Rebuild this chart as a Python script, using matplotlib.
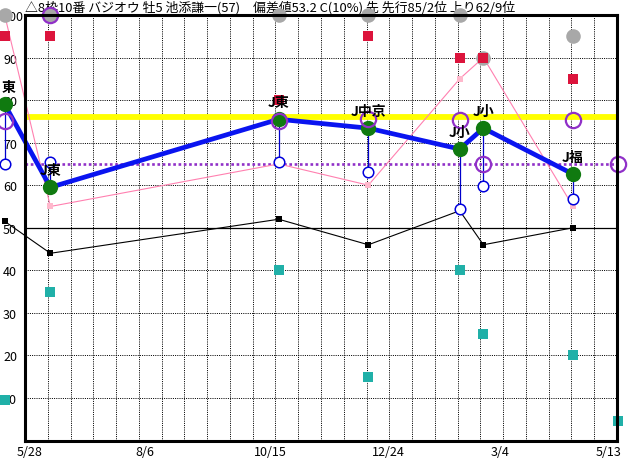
import matplotlib
matplotlib.use("Agg")
import matplotlib.pyplot as plt
import matplotlib.transforms as mtransforms
import numpy as np

plt.rcParams['font.family'] = ['Noto Sans CJK JP', 'DejaVu Sans']

# タイトル
title = "△8枠10番 バジオウ 牡5 池添謙一(57)\u3000偏差値53.2 C(10%) 先 先行85/2位 上り62/9位"

# X軸 (5/28 からの日数)
tick_days = [0, 70, 140, 210, 280, 350]
tick_labels = ["5/28", "8/6", "10/15", "12/24", "3/4", "5/13"]

# 各レース (最初のレースは左端で「J」が見えない)
race_days = [-12, 15, 150, 203, 257, 271, 324]
race_labels = ["東", "J東", "J東", "J中京", "J小", "J小", "J福"]
green_vals = [79, 59.5, 75.5, 73.4, 68.5, 73.4, 62.6]
blue_vals = [65, 65.4, 65.4, 63, 54.4, 59.8, 56.7]
purple_vals = [75, 100, 75, 75.5, 75.3, 65, 75.3]
gray_vals = [100, 100, 100, 100, 100, 90, 95]
red_vals = [95, 95, 80, 95, 90, 90, 85]
pink_vals = [100, 55, 65, 60, 85, 90, 55]
black_vals = [51.5, 44, 52, 46, 54, 46, 50]
teal_vals = [9.6, 35, 40, 15, 40, 25, 20]

# 今回
now_day = 350.5
now_purple = 65
now_teal = 4.7

# 基準線
yellow_level = 76
purple_level = 65

W, H = 632, 460
fig = plt.figure(figsize=(W / 100, H / 100), dpi=100)
ax = fig.add_axes([25 / W, (H - 441.5) / H, 592 / W, 425.5 / H])
ax.set_xlim(0, 350)
ax.set_ylim(0, 100)

# グリッド
for gx in np.linspace(0, 350, 27)[1:-1]:
    ax.axvline(gx, color='black', lw=0.72, dashes=(1, 1.2), zorder=0.5)
for gy in range(10, 100, 10):
    if gy == 50:
        ax.axhline(gy, color='black', lw=0.9, zorder=1.2)
    else:
        ax.axhline(gy, color='black', lw=0.72, dashes=(1, 1.2), zorder=0.5)

ax.axhline(yellow_level, color='#FFFF00', lw=4.2, zorder=1)
ax.axhline(purple_level, color='#9030C8', lw=1.9, dashes=(1, 1), zorder=1.1)

ax.plot(race_days, black_vals, color='black', lw=0.8, marker='s', ms=4.5,
        mew=0, zorder=2, clip_on=False)
ax.plot(race_days, pink_vals, color='#FF80B0', lw=0.8, zorder=2.1, clip_on=False)
ax.plot(race_days, pink_vals, ls='none', marker='s', ms=4.5, color='#FFB8CC',
        mew=0, zorder=2.15, clip_on=False)

for d, g, b in zip(race_days, green_vals, blue_vals):
    ax.plot([d, d], [g, b], color='#0000CC', lw=0.9, zorder=2.5, clip_on=False)
ax.plot(race_days, blue_vals, ls='none', marker='o', ms=7.6, mfc='white',
        mec='#0000DD', mew=1.1, zorder=2.6, clip_on=False)

ax.plot(race_days + [now_day], teal_vals + [now_teal], ls='none', marker='s',
        ms=6.6, color='#20B0A8', mew=0, zorder=3, clip_on=False)
ax.plot(race_days, gray_vals, ls='none', marker='o', ms=10.5, color='#A8A8A8',
        mew=0, zorder=3.2, clip_on=False)
ax.plot(race_days, red_vals, ls='none', marker='s', ms=6.8, color='#DC143C',
        mew=0, zorder=3.4, clip_on=False)

ax.plot(race_days, green_vals, color='#0A14F0', lw=3.4, zorder=4,
        solid_capstyle='round', clip_on=False)
ax.plot(race_days, green_vals, ls='none', marker='o', ms=11, color='#107A10',
        mew=0, zorder=4.5, clip_on=False)
ax.plot(race_days + [now_day], purple_vals + [now_purple], ls='none', marker='o',
        ms=11, mfc='none', mec='#9030C8', mew=1.6, zorder=5, clip_on=False)

for i, (d, g, lab) in enumerate(zip(race_days, green_vals, race_labels)):
    dx = 3 if i == 0 else 0  # 左端からはみ出さないよう少しずらす
    ax.annotate(lab, (d, g), xytext=(dx, 12.5), textcoords='offset points',
                ha='center', va='center', fontsize=10, fontweight='bold',
                color='black', zorder=6, annotation_clip=False)

# 軸
for s in ax.spines.values():
    s.set_linewidth(2.2)
    s.set_zorder(7)

ax.set_yticks(range(10, 101, 10))
ax.set_yticklabels([str(v) for v in range(10, 101, 10)], fontsize=9)
ax.tick_params(axis='y', length=0, pad=15.8)
for lbl in ax.get_yticklabels():
    lbl.set_horizontalalignment('left')

ax.set_xticks(tick_days)
ax.set_xticklabels(tick_labels, fontsize=9)
ax.tick_params(axis='x', length=0, pad=3)
xl = ax.get_xticklabels()
for lbl in xl[:-1]:
    lbl.set_horizontalalignment('left')
    lbl.set_transform(lbl.get_transform() +
                      mtransforms.ScaledTranslation(-8 / 100, 0, fig.dpi_scale_trans))
xl[-1].set_horizontalalignment('right')
xl[-1].set_transform(xl[-1].get_transform() +
                     mtransforms.ScaledTranslation(5 / 100, 0, fig.dpi_scale_trans))

ax.text(25 / W, 1 - 8 / H, title, transform=fig.transFigure, ha='left',
        va='center', fontsize=9.3, zorder=0.2, clip_on=False)

fig.savefig("out.png", dpi=100)
